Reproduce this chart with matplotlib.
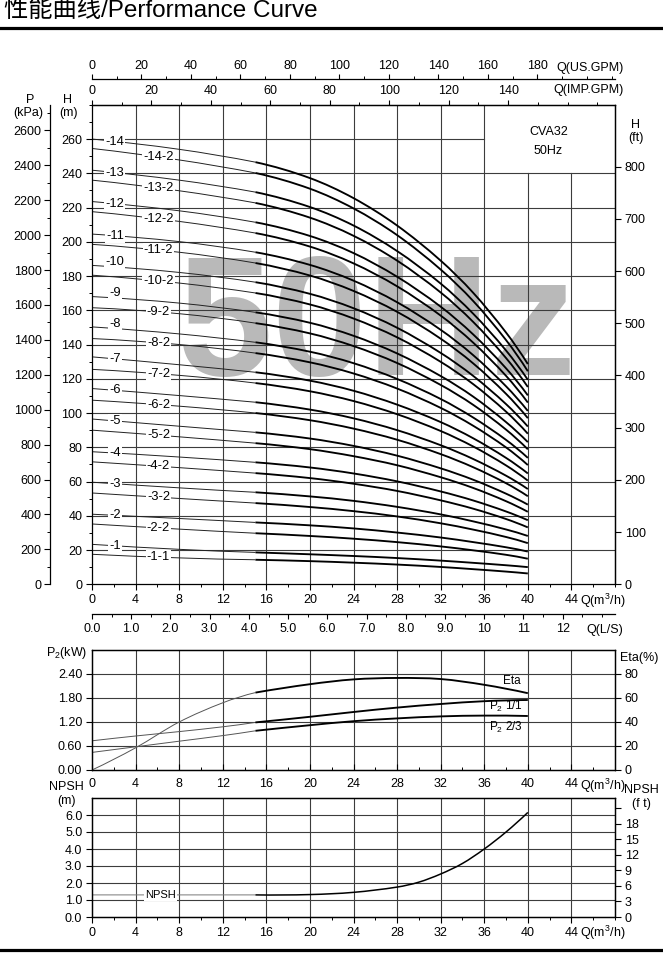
import numpy as np
import matplotlib
matplotlib.use('Agg')
import matplotlib.pyplot as plt
from matplotlib.ticker import MultipleLocator
from matplotlib.lines import Line2D
from matplotlib.path import Path
from matplotlib.patches import PathPatch

plt.rcParams['font.family'] = ['Liberation Sans', 'Noto Sans CJK SC', 'DejaVu Sans']
plt.rcParams['mathtext.fontset'] = 'custom'
plt.rcParams['mathtext.rm'] = 'Liberation Sans'
plt.rcParams['mathtext.it'] = 'Liberation Sans'
plt.rcParams['font.size'] = 9
plt.rcParams['axes.linewidth'] = 0.9

# ! Data
q_h = [0, 8, 15, 20, 24, 28, 32, 35, 38, 40]   # m3/h

full_labels = ['-1', '-2', '-3', '-4', '-5', '-6', '-7', '-8', '-9', '-10', '-11', '-12', '-13', '-14']
h_full = [
    [23.3, 20.4, 18.6, 17.5, 16.5, 15.3, 13.8, 12.5, 11.1, 10.0],
    [40.9, 38.4, 36.1, 34.4, 32.6, 30.2, 27.3, 24.6, 21.6, 19.1],
    [59.6, 56.3, 53.7, 51.3, 48.7, 45.2, 40.8, 36.7, 32.0, 28.2],
    [77.4, 74.3, 71.2, 68.2, 64.7, 60.1, 54.2, 48.9, 42.5, 37.4],
    [96.5, 92.3, 88.7, 85.1, 80.8, 75.1, 67.7, 61.0, 52.9, 46.5],
    [114.3, 110.2, 106.3, 102.0, 96.9, 90.0, 81.2, 73.1, 63.4, 55.6],
    [132.8, 128.2, 123.8, 118.9, 113.0, 104.9, 94.7, 85.2, 73.8, 64.7],
    [150.3, 146.2, 141.3, 135.8, 129.1, 119.9, 108.2, 97.3, 84.3, 73.8],
    [168.0, 164.2, 158.8, 152.7, 145.1, 134.8, 121.6, 109.5, 94.7, 83.0],
    [186.2, 182.1, 176.4, 169.6, 161.2, 149.8, 135.1, 121.6, 105.2, 92.1],
    [204.5, 200.1, 193.9, 186.5, 177.3, 164.7, 148.6, 133.7, 115.6, 101.2],
    [223.5, 218.1, 211.4, 203.4, 193.4, 179.6, 162.1, 145.8, 126.1, 110.3],
    [241.8, 236.0, 229.0, 220.3, 209.5, 194.6, 175.6, 157.9, 136.5, 119.4],
    [260.0, 254.0, 246.5, 237.2, 225.5, 209.5, 189.0, 170.1, 147.0, 128.6],
]
full_label_dy = [0, 0, 0, 0, 0, 0, 0, 3, 3, 3, 0, 0, 0, 0]

trim_labels = ['-1-1', '-2-2', '-3-2', '-4-2', '-5-2', '-6-2', '-7-2', '-8-2', '-9-2', '-10-2', '-11-2', '-12-2', '-13-2', '-14-2']
h_trim = [
    [17.5, 15.4, 14.3, 13.5, 12.6, 11.5, 10.1, 8.8, 7.4, 6.3],
    [35.2, 32.2, 29.8, 28.2, 26.6, 24.6, 22.1, 19.8, 17.2, 14.9],
    [53.3, 50.1, 47.4, 45.1, 42.7, 39.6, 35.6, 31.9, 27.6, 24.0],
    [71.5, 68.1, 64.9, 62.0, 58.7, 54.5, 49.0, 44.1, 38.1, 33.2],
    [90.0, 86.1, 82.4, 78.9, 74.8, 69.5, 62.5, 56.2, 48.5, 42.3],
    [107.5, 104.0, 100.0, 95.8, 90.9, 84.4, 76.0, 68.3, 59.0, 51.4],
    [125.5, 122.0, 117.5, 112.7, 107.0, 99.3, 89.5, 80.4, 69.4, 60.5],
    [143.5, 140.0, 135.0, 129.6, 123.1, 114.3, 103.0, 92.5, 79.9, 69.6],
    [161.5, 158.0, 152.5, 146.5, 139.1, 129.2, 116.4, 104.7, 90.3, 78.8],
    [180.5, 175.9, 170.1, 163.4, 155.2, 144.2, 129.9, 116.8, 100.8, 87.9],
    [198.5, 193.9, 187.6, 180.3, 171.3, 159.1, 143.4, 128.9, 111.2, 97.0],
    [217.6, 211.9, 205.1, 197.2, 187.4, 174.0, 156.9, 141.0, 121.7, 106.1],
    [236.0, 229.8, 222.7, 214.1, 203.5, 189.0, 170.4, 153.1, 132.1, 115.2],
    [254.5, 247.8, 240.2, 231.0, 219.5, 203.9, 183.8, 165.3, 142.6, 124.4],
]

q_p = [0, 4, 8, 12, 15, 20, 24, 28, 32, 36, 40]
eta = [0, 18.5, 40, 56, 64.5, 71.5, 75.5, 76.7, 75.8, 71, 64]          # %
p2_full = [0.73, 0.85, 0.96, 1.08, 1.19, 1.33, 1.45, 1.56, 1.65, 1.72, 1.75]  # kW
p2_23 = [0.44, 0.58, 0.72, 0.86, 0.98, 1.12, 1.22, 1.29, 1.34, 1.36, 1.35]

q_n = [0, 15, 20, 24, 28, 30, 32, 34, 36, 38, 40]
npsh = [1.3, 1.3, 1.32, 1.45, 1.76, 2.05, 2.53, 3.15, 4.0, 5.0, 6.15]   # m

W, HP = 663, 960
Q_MAX = 48
THICK_FROM = 15


def rect(l, t, r, b):
    return [l / W, 1 - b / HP, (r - l) / W, (b - t) / HP]


def ftext(x, y, s, **kw):
    kw.setdefault('ha', 'center')
    kw.setdefault('va', 'center')
    fig.text(x / W, 1 - y / HP, s, **kw)


def smooth(a, x, y, color, lw):
    # smooth bezier line through the read points
    x = np.asarray(x, float)
    y = np.asarray(y, float)
    n = len(x)
    m = np.zeros(n)
    if n == 2:
        m[:] = (y[1] - y[0]) / (x[1] - x[0])
    else:
        m[1:-1] = (y[2:] - y[:-2]) / (x[2:] - x[:-2])
        m[0] = 2 * (y[1] - y[0]) / (x[1] - x[0]) - m[1]
        m[-1] = 2 * (y[-1] - y[-2]) / (x[-1] - x[-2]) - m[-2]
    verts = [(x[0], y[0])]
    codes = [Path.MOVETO]
    for i in range(n - 1):
        h = x[i + 1] - x[i]
        verts += [(x[i] + h / 3, y[i] + m[i] * h / 3),
                  (x[i + 1] - h / 3, y[i + 1] - m[i + 1] * h / 3),
                  (x[i + 1], y[i + 1])]
        codes += [Path.CURVE4] * 3
    a.add_patch(PathPatch(Path(verts, codes), fill=False, edgecolor=color, lw=lw,
                          zorder=2, capstyle='butt'))


def split_plot(a, q, v, thin_c='#3a3a3a', lw_thin=0.7, lw_thick=1.35):
    i = q.index(THICK_FROM)
    smooth(a, q[:i + 1], v[:i + 1], thin_c, lw_thin)
    smooth(a, q[i:], v[i:], 'black', lw_thick)


def tick_style(a, axis='both', length=4, direction='out', pad=2):
    a.tick_params(axis=axis, which='major', length=length, width=0.8, direction=direction, pad=pad, labelsize=9)
    a.tick_params(axis=axis, which='minor', length=length * 0.6, width=0.7, direction=direction)


fig = plt.figure(figsize=(6.63, 9.6), dpi=100)

# ! Title
ftext(4, 11, '性能曲线/Performance Curve', ha='left', fontsize=17.5)
fig.add_artist(Line2D([0, 1], [1 - 28 / HP] * 2, color='black', lw=2.3))
fig.add_artist(Line2D([0, 1], [1 - 950 / HP] * 2, color='black', lw=2.3))

# ! Main H-Q chart
ax = fig.add_axes(rect(92, 104.8, 615, 584.25))
ax.set_xlim(0, Q_MAX)
ax.set_ylim(0, 280)
ax.set_xticks(range(0, 45, 4))
ax.xaxis.set_minor_locator(MultipleLocator(2))
ax.set_yticks(range(0, 261, 20))
ax.yaxis.set_minor_locator(MultipleLocator(10))
tick_style(ax, pad=3)
ax.tick_params(top=False, which='both')

gc = '#3c3c3c'
for h in range(20, 241, 20):
    ax.plot([0, Q_MAX], [h, h], color=gc, lw=0.8, zorder=1)
ax.plot([0, 36], [260, 260], color=gc, lw=0.8, zorder=1)
for q in range(4, 37, 4):
    ax.plot([q, q], [0, 280], color=gc, lw=0.8, zorder=1)
for q in (40, 44):
    ax.plot([q, q], [0, 240], color=gc, lw=0.8, zorder=1)

ax.text(178 / W, 1 - 375 / HP, '50Hz', transform=fig.transFigure, fontsize=123,
        fontweight='bold', color='#b9b9b9', ha='left', va='baseline', zorder=0.5)

for lab, row, dy in zip(full_labels, h_full, full_label_dy):
    split_plot(ax, q_h, row, thin_c='#222222')
    ax.text(2.1, np.interp(2.1, q_h, row) + dy, lab, ha='center', va='center', fontsize=9.3,
            bbox=dict(boxstyle='square,pad=0.08', fc='white', ec='none'), zorder=3)
for lab, row in zip(trim_labels, h_trim):
    split_plot(ax, q_h, row, thin_c='#222222')
    ax.text(6.1, np.interp(6.1, q_h, row), lab, ha='center', va='center', fontsize=9.3,
            bbox=dict(boxstyle='square,pad=0.08', fc='white', ec='none'), zorder=3)

ax.text(41.9, 264, 'CVA32', ha='center', va='center', fontsize=9)
ax.text(41.9, 253, '50Hz', ha='center', va='center', fontsize=9)

# H (ft) on the right
axr = ax.twinx()
axr.set_ylim(0, 280 / 0.3048)
axr.set_yticks(range(0, 801, 100))
tick_style(axr, pad=3)
for s in ('left', 'top', 'bottom'):
    axr.spines[s].set_visible(False)

# P (kPa) outer left
axp = ax.twinx()
axp.set_ylim(0, 280 * 9.81)
axp.spines['left'].set_position(('axes', -42 / 523))
axp.yaxis.set_ticks_position('left')
axp.set_yticks(range(0, 2601, 200))
axp.yaxis.set_minor_locator(MultipleLocator(100))
tick_style(axp, pad=2)
for s in ('right', 'top', 'bottom'):
    axp.spines[s].set_visible(False)
axp.spines['left'].set_visible(True)

# US.GPM top scale
axu = ax.twiny()
axu.set_xlim(0, Q_MAX * 4.4029)
axu.spines['top'].set_position(('axes', (584.25 - 79) / 479.45))
axu.set_xticks(range(0, 181, 20))
axu.xaxis.set_minor_locator(MultipleLocator(10))
tick_style(axu, length=3.5, pad=1.5)
for s in ('left', 'right', 'bottom'):
    axu.spines[s].set_visible(False)

# IMP.GPM top scale
axi = ax.twiny()
axi.set_xlim(0, Q_MAX * 3.6662)
axi.set_xticks(range(0, 141, 20))
axi.xaxis.set_minor_locator(MultipleLocator(10))
tick_style(axi, length=3.5, pad=2)
for s in ('left', 'right', 'bottom'):
    axi.spines[s].set_visible(False)

# L/S bottom scale
axl = ax.twiny()
axl.xaxis.set_ticks_position('bottom')
axl.spines['bottom'].set_position(('axes', -(614 - 584.25) / 479.45))
axl.set_xlim(0, Q_MAX / 3.6)
ls_ticks = list(range(0, 13))
axl.set_xticks(ls_ticks)
axl.set_xticklabels([f'{t:.1f}' if t < 10 else str(t) for t in ls_ticks])
axl.xaxis.set_minor_locator(MultipleLocator(0.5))
tick_style(axl, length=3.5, pad=3)
for s in ('left', 'right', 'top'):
    axl.spines[s].set_visible(False)

ftext(590, 68, 'Q(US.GPM)', fontsize=9)
ftext(588, 90, 'Q(IMP.GPM)', fontsize=9)
ftext(30, 100, 'P', fontsize=9)
ftext(28, 113, '(kPa)', fontsize=9)
ftext(68, 100, 'H', fontsize=9)
ftext(68, 113, '(m)', fontsize=9)
ftext(636, 125, 'H', fontsize=9)
ftext(636, 138, '(ft)', fontsize=9)
ftext(603, 601, 'Q(m$^3$/h)', fontsize=9)
ftext(605, 630, 'Q(L/S)', fontsize=9)

# ! P2 / Eta chart
ax2 = fig.add_axes(rect(92, 650, 615, 770))
ax2.set_xlim(0, Q_MAX)
ax2.set_ylim(0, 3.0)
p_ticks = [0, 0.6, 1.2, 1.8, 2.4]
ax2.set_yticks(p_ticks)
ax2.set_yticklabels([f'{t:.2f}' for t in p_ticks])
ax2.set_xticks(range(0, 45, 4))
ax2.xaxis.set_minor_locator(MultipleLocator(2))
tick_style(ax2, pad=3)
ax2.tick_params(axis='x', which='both', direction='in', pad=6)
for h in p_ticks[1:]:
    ax2.plot([0, Q_MAX], [h, h], color=gc, lw=0.8, zorder=1)
for q in range(4, 45, 4):
    ax2.plot([q, q], [0, 3.0], color=gc, lw=0.8, zorder=1)

split_plot(ax2, q_p, p2_full, thin_c='#555555')
split_plot(ax2, q_p, p2_23, thin_c='#555555')
ax2.text(38.0, 1.6, 'P$_2$ 1/1', ha='center', va='center', fontsize=8.5)
ax2.text(38.0, 1.07, 'P$_2$ 2/3', ha='center', va='center', fontsize=8.5)
ax2.text(38.5, 2.22, 'Eta', ha='center', va='center', fontsize=8.5)

ax2r = ax2.twinx()
ax2r.set_ylim(0, 100)
ax2r.set_yticks(range(0, 81, 20))
tick_style(ax2r, pad=3)
split_plot(ax2r, q_p, eta, thin_c='#555555')

ftext(67, 653, 'P$_2$(kW)', fontsize=9)
ftext(639, 658, 'Eta(%)', fontsize=9)
ftext(603, 786, 'Q(m$^3$/h)', fontsize=9)

# ! NPSH chart
ax3 = fig.add_axes(rect(92, 798, 615, 917))
ax3.set_xlim(0, Q_MAX)
ax3.set_ylim(0, 7.0)
n_ticks = [0, 1, 2, 3, 4, 5, 6]
ax3.set_yticks(n_ticks)
ax3.set_yticklabels([f'{t:.1f}' for t in n_ticks])
ax3.set_xticks(range(0, 45, 4))
ax3.xaxis.set_minor_locator(MultipleLocator(2))
tick_style(ax3, pad=3)
for h in n_ticks[1:]:
    ax3.plot([0, Q_MAX], [h, h], color=gc, lw=0.8, zorder=1)
for q in range(4, 45, 4):
    ax3.plot([q, q], [0, 7.0], color=gc, lw=0.8, zorder=1)

split_plot(ax3, q_n, npsh, thin_c='#777777', lw_thick=1.1)
ax3.text(6.3, 1.3, 'NPSH', ha='center', va='center', fontsize=8,
         bbox=dict(boxstyle='square,pad=0.08', fc='white', ec='none'), zorder=3)

ax3r = ax3.twinx()
ax3r.set_ylim(0, 7.0 / 0.3048)
ft_ticks = list(range(0, 22, 3))
ax3r.set_yticks(ft_ticks)
ax3r.set_yticklabels([str(t) if t <= 18 else '' for t in ft_ticks])
tick_style(ax3r, pad=3)

ftext(66, 787, 'NPSH', fontsize=9)
ftext(66, 801, '(m)', fontsize=9)
ftext(641, 790, 'NPSH', fontsize=9)
ftext(641, 804, '(f t)', fontsize=9)
ftext(603, 933, 'Q(m$^3$/h)', fontsize=9)

fig.savefig('out.png', dpi=100)
